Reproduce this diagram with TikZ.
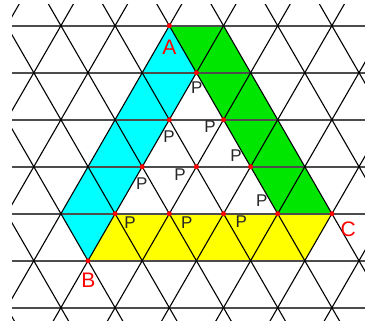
\documentclass[tikz,border=0pt]{standalone}
\usepackage{fontspec}
\setmainfont{Liberation Sans}
\definecolor{lcyan}{RGB}{0,255,255}
\definecolor{lgreen}{RGB}{0,230,0}
\definecolor{lyellow}{RGB}{255,255,0}
\begin{document}
\begin{tikzpicture}[x=1pt,y=-1pt,
  hline/.style={draw=black!70,line width=1.6pt},
  dline/.style={draw=black,line width=1.1pt},
  dot/.style={circle,fill=red,inner sep=0pt,minimum size=5pt},
  plab/.style={text=black!85,font=\fontsize{17}{17}\selectfont,inner sep=0pt},
  vlab/.style={text=red,font=\fontsize{21}{21}\selectfont,inner sep=0pt}]
\useasboundingbox (0,0) rectangle (365,325);
\def\s{54.2}\def\hs{27.1}\def\h{47}
% key points
\coordinate (A) at (169.3,25.7);
\coordinate (B) at (88,260.7);
\coordinate (C) at (331.9,213.7);
\coordinate (L) at (60.9,213.7);
\coordinate (G) at (223.5,25.7);
\coordinate (P1) at (196.4,72.7);
\coordinate (P2) at (169.3,119.7);
\coordinate (P3) at (223.5,119.7);
\coordinate (P4) at (142.2,166.7);
\coordinate (P5) at (196.4,166.7);
\coordinate (P6) at (250.6,166.7);
\coordinate (P7) at (115.1,213.7);
\coordinate (P8) at (169.3,213.7);
\coordinate (P9) at (223.5,213.7);
\coordinate (P10) at (277.7,213.7);
\coordinate (Y) at (304.8,260.7);
% fills
\fill[lcyan] (A) -- (L) -- (B) -- (P1) -- cycle;
\fill[lgreen] (A) -- (G) -- (C) -- (P10) -- cycle;
\fill[lyellow] (B) -- (P7) -- (C) -- (Y) -- cycle;
% lattice
\begin{scope}
\clip (12,4) rectangle (365,320);
\foreach \j in {0,...,6}
  \draw[hline] (12,25.7+\j*\h) -- (365,25.7+\j*\h);
\foreach \m in {-8,...,12}{
  \draw[dline] (169.3+\m*\s-2*\hs,25.7-2*\h) -- (169.3+\m*\s+8*\hs,25.7+8*\h);
  \draw[dline] (169.3+\m*\s+2*\hs,25.7-2*\h) -- (169.3+\m*\s-8*\hs,25.7+8*\h);
}
\end{scope}
% dots
\foreach \p in {A,B,C,P1,P2,P3,P4,P5,P6,P7,P8,P9,P10}
  \node[dot] (d\p) at (\p) {};
% labels
\node[vlab] (lA) at (169.3,47.5) {A};
\node[vlab] (lB) at (88.3,280.5) {B};
\node[vlab] (lC) at (348.3,229.5) {C};
\node[plab] (l1) at (196.7,88) {P};
\node[plab] (l2) at (169,137) {P};
\node[plab] (l3) at (210,127) {P};
\node[plab] (l4) at (141.7,184) {P};
\node[plab] (l5) at (180,175) {P};
\node[plab] (l6) at (236,156) {P};
\node[plab] (l7) at (261.7,201) {P};
\node[plab] (l8) at (130,222.7) {P};
\node[plab] (l9) at (186.7,222.7) {P};
\node[plab] (l10) at (241.3,221.7) {P};
\end{tikzpicture}
\end{document}
